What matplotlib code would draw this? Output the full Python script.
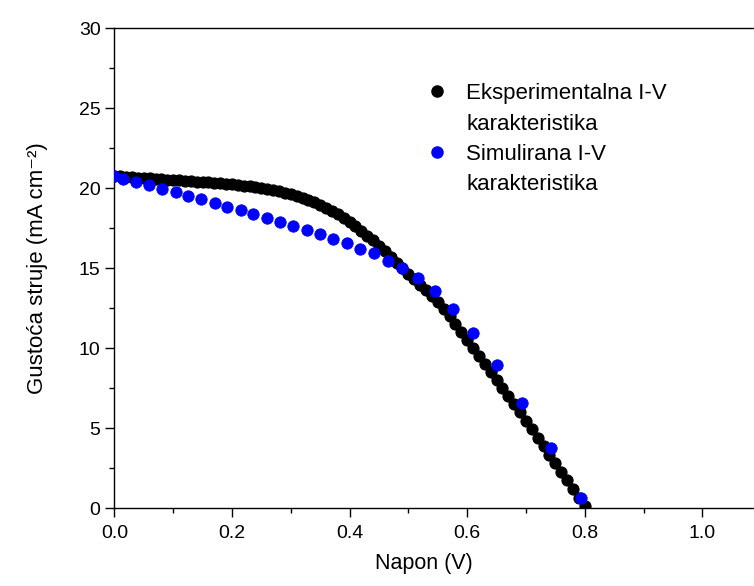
import matplotlib.pyplot as plt
from matplotlib.lines import Line2D
from matplotlib.ticker import MultipleLocator

plt.rcParams["font.family"] = ["Liberation Sans", "DejaVu Sans"]

# Experimental J-V points (V, mA/cm2)
exp_v = [
    0.00, 0.01, 0.02, 0.03, 0.04, 0.05, 0.06, 0.07, 0.08, 0.09,
    0.10, 0.11, 0.12, 0.13, 0.14, 0.15, 0.16, 0.17, 0.18, 0.19,
    0.20, 0.21, 0.22, 0.23, 0.24, 0.25, 0.26, 0.27, 0.28, 0.29,
    0.30, 0.31, 0.32, 0.33, 0.34, 0.35, 0.36, 0.37, 0.38, 0.39,
    0.40, 0.41, 0.42, 0.43, 0.44, 0.45, 0.46, 0.47, 0.48, 0.49,
    0.50, 0.51, 0.52, 0.53, 0.54, 0.55, 0.56, 0.57, 0.58, 0.59,
    0.60, 0.61, 0.62, 0.63, 0.64, 0.65, 0.66, 0.67, 0.68, 0.69,
    0.70, 0.71, 0.72, 0.73, 0.74, 0.75, 0.76, 0.77, 0.78, 0.79,
    0.80,
]
exp_j = [
    20.75, 20.72, 20.70, 20.67, 20.65, 20.62, 20.60, 20.57, 20.55, 20.52,
    20.50, 20.48, 20.45, 20.43, 20.40, 20.38, 20.35, 20.32, 20.29, 20.26,
    20.22, 20.18, 20.14, 20.10, 20.05, 20.00, 19.94, 19.87, 19.79, 19.70,
    19.60, 19.49, 19.37, 19.24, 19.10, 18.94, 18.76, 18.56, 18.35, 18.13,
    17.89, 17.62, 17.33, 17.02, 16.72, 16.40, 16.05, 15.70, 15.34, 14.98,
    14.64, 14.30, 13.96, 13.60, 13.23, 12.85, 12.43, 11.97, 11.49, 10.98,
    10.47, 9.98, 9.49, 9.00, 8.50, 8.01, 7.50, 6.99, 6.48, 5.97,
    5.45, 4.92, 4.39, 3.86, 3.33, 2.80, 2.27, 1.73, 1.19, 0.65,
    0.12,
]

# Simulated J-V points
sim_v = [
    0.000, 0.014, 0.037, 0.059, 0.081, 0.104, 0.125, 0.148, 0.171, 0.192,
    0.215, 0.236, 0.259, 0.282, 0.304, 0.327, 0.350, 0.372, 0.395, 0.418,
    0.441, 0.465, 0.490, 0.516, 0.545, 0.576, 0.610, 0.650, 0.694, 0.742,
    0.794,
]
sim_j = [
    20.72, 20.58, 20.38, 20.17, 19.92, 19.73, 19.52, 19.29, 19.08, 18.83,
    18.63, 18.38, 18.13, 17.88, 17.63, 17.38, 17.13, 16.81, 16.54, 16.21,
    15.92, 15.46, 15.00, 14.36, 13.54, 12.42, 10.92, 8.94, 6.54, 3.77,
    0.64,
]

legend_lines = ["Eksperimentalna I-V", "karakteristika", "Simulirana I-V", "karakteristika"]

fig = plt.figure(figsize=(7.54, 5.86), dpi=100)
ax = fig.add_axes([0.1517, 0.1331, 0.8578, 0.8191])

ax.plot(exp_v, exp_j, "o", color="black", markersize=8, markeredgewidth=0.8, zorder=3)
ax.plot(sim_v, sim_j, "o", color="#0000ff", markersize=8.2, markeredgewidth=0.6, zorder=4)

ax.set_xlim(0, 1.1)
ax.set_ylim(0, 30)
ax.xaxis.set_major_locator(MultipleLocator(0.2))
ax.xaxis.set_minor_locator(MultipleLocator(0.1))
ax.yaxis.set_major_locator(MultipleLocator(5))
ax.yaxis.set_minor_locator(MultipleLocator(2.5))
ax.xaxis.set_major_formatter(plt.FuncFormatter(lambda v, p: f"{v:.1f}"))

ax.tick_params(which="major", direction="out", length=6.5, width=1, labelsize=14)
ax.tick_params(which="minor", direction="out", length=3.5, width=1)
ax.tick_params(axis="x", pad=6)
for s in ax.spines.values():
    s.set_linewidth(1)

ax.set_xlabel("Napon (V)", fontsize=15.5)
ax.xaxis.set_label_coords(0.479, -0.094)
ax.set_ylabel("Gustoća struje (mA cm⁻²)", fontsize=16, labelpad=22)

# two-line legend labels, marker only on the first line of each entry
dot = dict(linestyle="none", marker="o", markersize=8)
handles = [
    Line2D([], [], color="black", **dot),
    Line2D([], [], linestyle="none"),
    Line2D([], [], color="#0000ff", **dot),
    Line2D([], [], linestyle="none"),
]
ax.legend(handles, legend_lines, loc="upper left", bbox_to_anchor=(0.482, 0.885),
          frameon=False, fontsize=16, handlelength=1.0, handletextpad=0.8,
          borderpad=0, borderaxespad=0, labelspacing=0.42)

fig.savefig("out.png", dpi=100)
